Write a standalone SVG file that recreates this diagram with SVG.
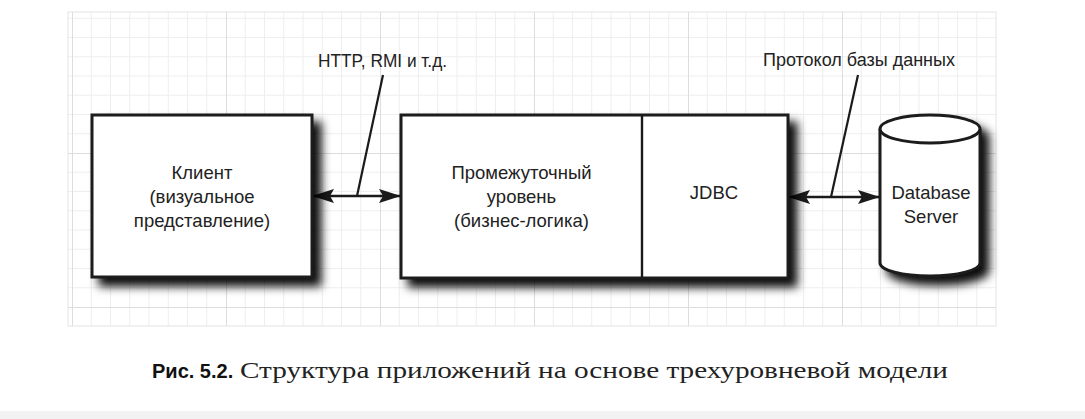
<svg xmlns="http://www.w3.org/2000/svg" width="1085" height="419" viewBox="0 0 1085 419">
  <defs>
    <style>
      .box { fill: #ffffff; stroke: #1a1a1a; stroke-width: 3; }
      .lbl { font-family: "Liberation Sans", Arial, sans-serif; font-size: 18.5px; fill: #222222; text-anchor: middle; }
      .conn { stroke: #1a1a1a; stroke-width: 2.4; fill: none; }
      .lead { stroke: #1a1a1a; stroke-width: 2.2; fill: none; }
      .minor { stroke: #eeeeee; stroke-width: 1; }
      .major { stroke: #dddddd; stroke-width: 1; }
    </style>
    <pattern id="grid" patternUnits="userSpaceOnUse" x="72" y="-1" width="154" height="154">
      <path class="minor" d="M19.25 0V154M38.5 0V154M57.75 0V154M77 0V154M96.25 0V154M115.5 0V154M134.75 0V154M0 19.25H154M0 38.5H154M0 57.75H154M0 77H154M0 96.25H154M0 115.5H154M0 134.75H154"/>
      <path class="major" d="M0.5 0V154M0 0.5H154"/>
    </pattern>
    <filter id="shadow" x="-20%" y="-20%" width="150%" height="150%">
      <feGaussianBlur in="SourceAlpha" stdDeviation="5"/>
      <feOffset dx="8" dy="8" result="b"/>
      <feFlood flood-color="#000" flood-opacity="0.95"/>
      <feComposite in2="b" operator="in" result="s"/>
      <feMerge><feMergeNode in="s"/><feMergeNode in="SourceGraphic"/></feMerge>
    </filter>
    <marker id="ah" viewBox="0 0 22 14" refX="22" refY="7" markerWidth="22" markerHeight="14" markerUnits="userSpaceOnUse" orient="auto-start-reverse">
      <path d="M0 0L22 7L0 14L4 7Z" fill="#1a1a1a"/>
    </marker>
  </defs>

  <rect width="1085" height="419" fill="#ffffff"/>
  <rect x="68" y="12" width="928" height="314" fill="url(#grid)"/>
  <rect x="68" y="12" width="928" height="314" fill="none" stroke="#e4e4e4" stroke-width="1"/>
  <rect x="0" y="411" width="1085" height="8" fill="#f2f2f2"/>

  <g id="connectors">
    <line class="conn" x1="312" y1="196" x2="401" y2="196" marker-start="url(#ah)" marker-end="url(#ah)"/>
    <line class="conn" x1="788" y1="197" x2="880" y2="197" marker-start="url(#ah)" marker-end="url(#ah)"/>
    <line class="lead" x1="383" y1="75" x2="357" y2="196"/>
    <line class="lead" x1="858" y1="75" x2="831" y2="197"/>
  </g>

  <g id="label-http">
    <text class="lbl" x="382.5" y="67" textLength="129" lengthAdjust="spacingAndGlyphs">HTTP, RMI и т.д.</text>
  </g>
  <g id="label-dbproto">
    <text class="lbl" x="859" y="66" textLength="192" lengthAdjust="spacingAndGlyphs">Протокол базы данных</text>
  </g>

  <g id="client">
    <rect class="box" x="92" y="115" width="220" height="162" filter="url(#shadow)"/>
    <text class="lbl" x="202" y="179">Клиент</text>
    <text class="lbl" x="202" y="203">(визуальное</text>
    <text class="lbl" x="202" y="227">представление)</text>
  </g>

  <g id="middle">
    <rect class="box" x="401" y="115" width="387" height="163" filter="url(#shadow)"/>
    <line x1="642" y1="115" x2="642" y2="278" stroke="#1a1a1a" stroke-width="2.4"/>
    <text class="lbl" x="521.5" y="179">Промежуточный</text>
    <text class="lbl" x="521.5" y="203">уровень</text>
    <text class="lbl" x="521.5" y="227">(бизнес-логика)</text>
  </g>

  <g id="jdbc">
    <text class="lbl" x="714" y="199">JDBC</text>
  </g>

  <g id="database">
    <g filter="url(#shadow)">
      <path class="box" d="M880 129V263A50 13 0 0 0 980 263V129"/>
      <ellipse class="box" cx="930" cy="129" rx="50" ry="14"/>
    </g>
    <text class="lbl" x="931" y="199">Database</text>
    <text class="lbl" x="931" y="223">Server</text>
  </g>

  <g id="caption">
    <text x="152" y="378" font-family="Liberation Sans, Arial, sans-serif" font-weight="bold" font-size="20" fill="#111">Рис. 5.2.</text>
    <text x="240" y="378" font-family="Liberation Serif, Times New Roman, serif" font-size="23" fill="#222" textLength="708" lengthAdjust="spacingAndGlyphs">Структура приложений на основе трехуровневой модели</text>
  </g>
</svg>
